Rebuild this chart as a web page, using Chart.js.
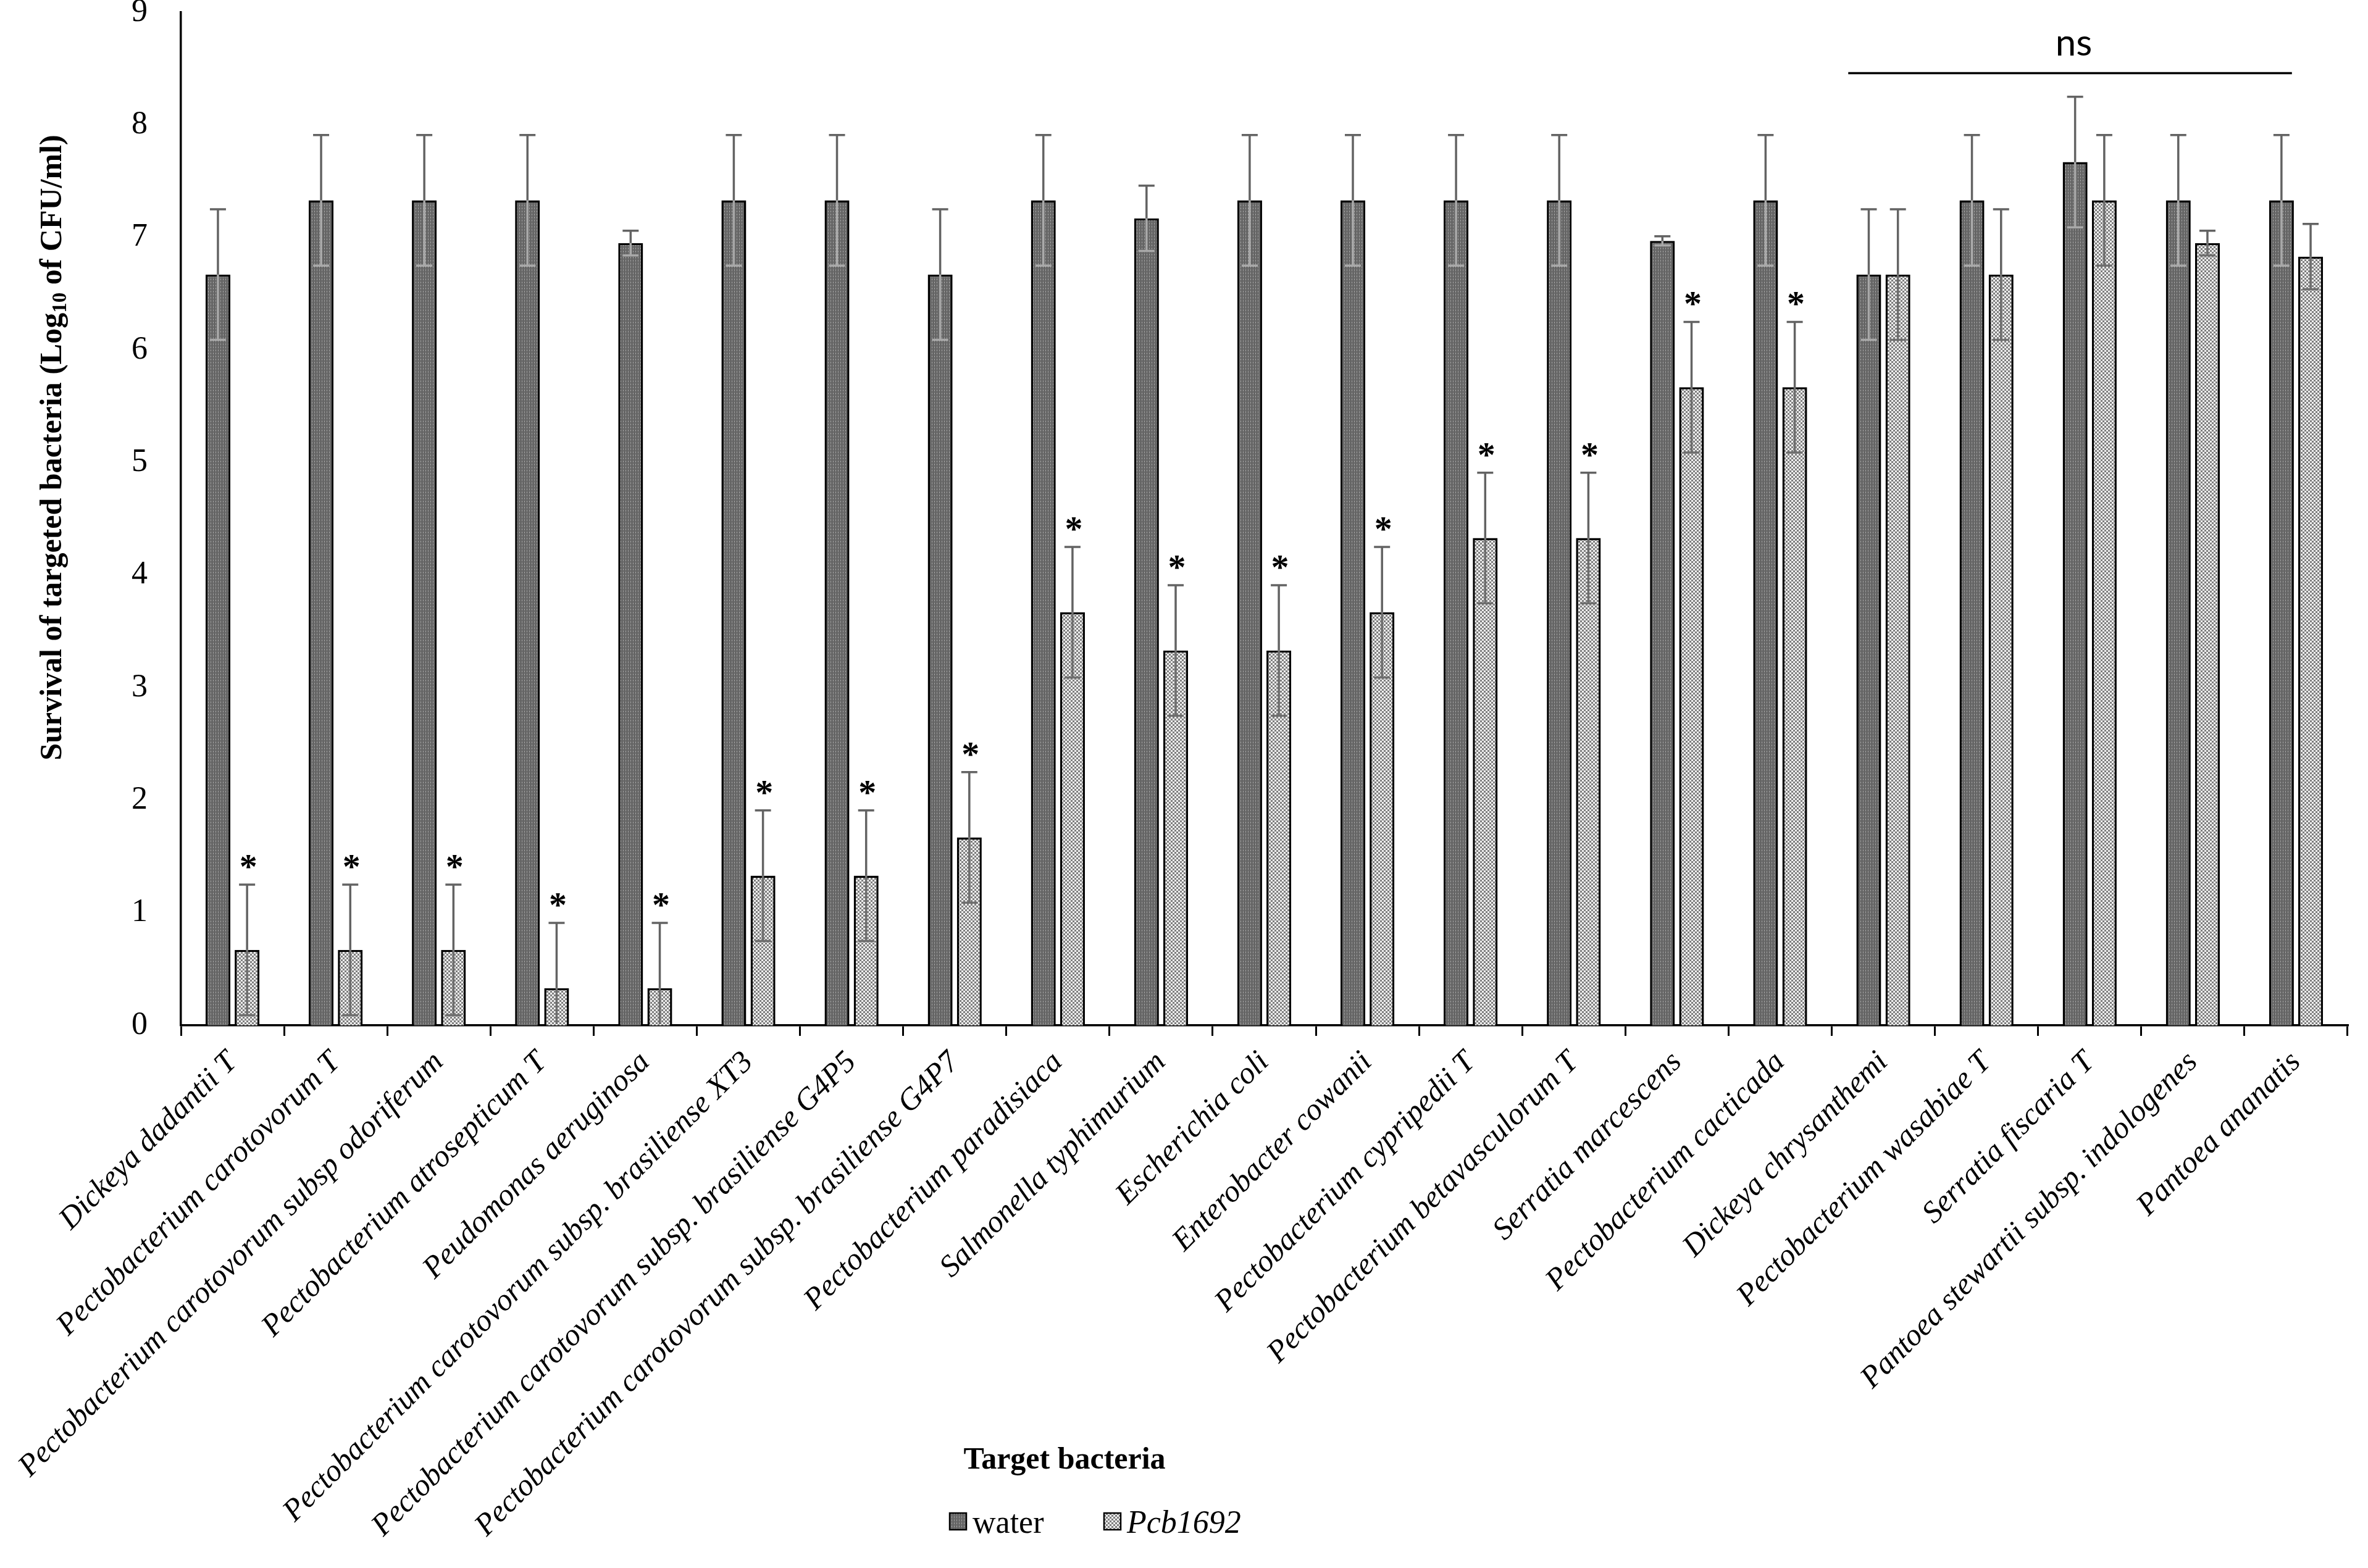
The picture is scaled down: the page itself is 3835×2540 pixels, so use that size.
<!DOCTYPE html>
<html>
<head>
<meta charset="utf-8">
<script src="https://cdn.jsdelivr.net/npm/chart.js@4.4.1/dist/chart.umd.min.js"></script>
<style>
	html, body { margin: 0; padding: 0; background: #fff; }
</style>
</head>
<body>
<canvas id="grafica" width="3835" height="2540"></canvas>
<script>
// datos
var categorias = [
	'Dickeya dadantii T',
	'Pectobacterium carotovorum T',
	'Pectobacterium carotovorum subsp odoriferum',
	'Pectobacterium atrosepticum T',
	'Peudomonas aeruginosa',
	'Pectobacterium carotovorum subsp. brasiliense XT3',
	'Pectobacterium carotovorum subsp. brasiliense G4P5',
	'Pectobacterium carotovorum subsp. brasiliense G4P7',
	'Pectobacterium paradisiaca',
	'Salmonella typhimurium',
	'Escherichia coli',
	'Enterobacter cowanii',
	'Pectobacterium cypripedii T',
	'Pectobacterium betavasculorum T',
	'Serratia marcescens',
	'Pectobacterium cacticada',
	'Dickeya chrysanthemi',
	'Pectobacterium wasabiae T',
	'Serratia fiscaria T',
	'Pantoea stewartii subsp. indologenes',
	'Pantoea ananatis'
];
var agua    = [6.67, 7.33, 7.33, 7.33, 6.95, 7.33, 7.33, 6.67, 7.33, 7.17, 7.33, 7.33, 7.33, 7.33, 6.97, 7.33, 6.67, 7.33, 7.67, 7.33, 7.33];
var aguaErr = [0.58, 0.58, 0.58, 0.58, 0.11, 0.58, 0.58, 0.58, 0.58, 0.29, 0.58, 0.58, 0.58, 0.58, 0.04, 0.58, 0.58, 0.58, 0.58, 0.58, 0.58];
var pcb     = [0.67, 0.67, 0.67, 0.33, 0.33, 1.33, 1.33, 1.67, 3.67, 3.33, 3.33, 3.67, 4.33, 4.33, 5.67, 5.67, 6.67, 6.67, 7.33, 6.95, 6.83];
var pcbErr  = [0.58, 0.58, 0.58, 0.58, 0.58, 0.58, 0.58, 0.58, 0.58, 0.58, 0.58, 0.58, 0.58, 0.58, 0.58, 0.58, 0.58, 0.58, 0.58, 0.11, 0.29];
var signif  = [1, 1, 1, 1, 1, 1, 1, 1, 1, 1, 1, 1, 1, 1, 1, 1, 0, 0, 0, 0, 0];
var ticksY  = [0, 1, 2, 3, 4, 5, 6, 7, 8, 9];
var series  = ['water', 'Pcb1692'];
// barra "ns" sobre los ultimos grupos
var nsDesde = 16, nsHasta = 20, nsNivel = 8.46;

var ctx = document.querySelector('#grafica').getContext('2d');

// texturas de las barras
function patronAgua(){
	var c = document.createElement('canvas');
	c.width = 4; c.height = 5;
	var g = c.getContext('2d');
	g.fillStyle = '#5a5a5a'; g.fillRect(0, 0, 4, 5);
	g.fillStyle = '#858585'; g.fillRect(1, 0, 1, 5);
	g.fillStyle = '#d8d8d8'; g.fillRect(1, 2, 1, 1);
	g.fillStyle = '#707070'; g.fillRect(3, 0, 1, 5);
	return ctx.createPattern(c, 'repeat');
}
function patronPcb(){
	var c = document.createElement('canvas');
	c.width = 6; c.height = 6;
	var g = c.getContext('2d');
	g.fillStyle = '#f0f0f0'; g.fillRect(0, 0, 6, 6);
	g.fillStyle = '#7e7e7e'; g.fillRect(0, 0, 3, 3); g.fillRect(3, 3, 3, 3);
	return ctx.createPattern(c, 'repeat');
}
var texAgua = patronAgua();
var texPcb = patronPcb();

var extras = {
	id: 'extras',
	afterDatasetsDraw: function(chart){
		var c = chart.ctx;
		var ys = chart.scales.y, xs = chart.scales.x;
		var area = chart.chartArea;
		var errores = [aguaErr, pcbErr];
		var valores = [agua, pcb];
		c.save();
		for (var d = 0; d < 2; d++) {
			var meta = chart.getDatasetMeta(d);
			meta.data.forEach(function(bar, i){
				var v = valores[d][i], e = errores[d][i];
				var yt = ys.getPixelForValue(v + e);
				var yv = ys.getPixelForValue(v);
				var yb = ys.getPixelForValue(v - e);
				c.lineWidth = 3.5;
				// parte de abajo (dentro de la barra), cortada en el eje
				c.save();
				c.beginPath();
				c.rect(area.left, area.top - 200, area.right - area.left, area.bottom - area.top + 198);
				c.clip();
				c.strokeStyle = d === 0 ? '#a9a9a9' : '#6e6e6e';
				c.beginPath();
				c.moveTo(bar.x, yv); c.lineTo(bar.x, yb);
				c.moveTo(bar.x - 13, yb); c.lineTo(bar.x + 13, yb);
				c.stroke();
				c.restore();
				// parte de arriba
				c.strokeStyle = '#636363';
				c.beginPath();
				c.moveTo(bar.x, yv); c.lineTo(bar.x, yt);
				c.moveTo(bar.x - 13, yt); c.lineTo(bar.x + 13, yt);
				c.stroke();
				if (d === 1 && signif[i]) {
					c.fillStyle = '#000';
					c.font = 'bold 58px "Liberation Serif"';
					c.textAlign = 'center';
					c.textBaseline = 'alphabetic';
					c.fillText('*', bar.x + 2, yt - 10);
				}
			});
		}
		// linea ns
		var cw = xs.getPixelForValue(1) - xs.getPixelForValue(0);
		var x1 = xs.getPixelForValue(nsDesde) - 0.34 * cw;
		var x2 = xs.getPixelForValue(nsHasta) - 0.04 * cw;
		var yn = ys.getPixelForValue(nsNivel);
		c.strokeStyle = '#000';
		c.lineWidth = 3.5;
		c.beginPath(); c.moveTo(x1, yn); c.lineTo(x2, yn); c.stroke();
		c.fillStyle = '#000';
		c.font = '60px Lato';
		c.textAlign = 'center';
		c.textBaseline = 'alphabetic';
		c.fillText('ns', (x1 + x2) / 2 + 6, yn - 28);
		c.restore();
	},
	afterDraw: function(chart){
		var c = chart.ctx;
		c.save();
		// titulo eje y con subindice
		c.translate(86, 725);
		c.rotate(-Math.PI / 2);
		c.fillStyle = '#000';
		c.textBaseline = 'middle';
		c.textAlign = 'left';
		var p1 = 'Survival of targeted bacteria (Log', p2 = '10', p3 = ' of CFU/ml)';
		var fg = 'bold 50px "Liberation Serif"', fs = 'bold 33px "Liberation Serif"';
		c.font = fg;
		var w1 = c.measureText(p1).width, w3 = c.measureText(p3).width;
		c.font = fs;
		var w2 = c.measureText(p2).width;
		var x0 = -(w1 + w2 + w3) / 2;
		c.font = fg;
		c.fillText(p1, x0, 0);
		c.font = fs;
		c.fillText(p2, x0 + w1, 12);
		c.font = fg;
		c.fillText(p3, x0 + w1 + w2, 0);
		c.restore();

		c.save();
		// titulo eje x
		c.fillStyle = '#000';
		c.font = 'bold 50px "Liberation Serif"';
		c.textAlign = 'center';
		c.textBaseline = 'alphabetic';
		c.fillText('Target bacteria', 1724, 2379);
		// leyenda
		var cajas = [[1538, texAgua, '', series[0]], [1788, texPcb, 'italic ', series[1]]];
		cajas.forEach(function(k){
			c.fillStyle = k[1];
			c.fillRect(k[0], 2451, 27, 27);
			c.strokeStyle = '#000';
			c.lineWidth = 2.5;
			c.strokeRect(k[0], 2451, 27, 27);
			c.fillStyle = '#000';
			c.font = k[2] + '52px "Liberation Serif"';
			c.textAlign = 'left';
			c.fillText(k[3], k[0] + 37, 2483);
		});
		c.restore();
	}
};

var myChart = new Chart(ctx, {
	type: 'bar',
	data: {
		labels: categorias,
		datasets: [{
			label: series[0],
			data: agua,
			backgroundColor: texAgua,
			borderColor: '#000',
			borderWidth: 3.5
		}, {
			label: series[1],
			data: pcb,
			backgroundColor: texPcb,
			borderColor: '#000',
			borderWidth: 3.5
		}]
	},
	options: {
		responsive: false,
		animation: false,
		devicePixelRatio: 1,
		layout: { padding: { top: 20, right: 33, left: 0, bottom: 0 } },
		datasets: { bar: { categoryPercentage: 0.565, barPercentage: 0.85 } },
		plugins: {
			legend: { display: false },
			tooltip: { enabled: false }
		},
		scales: {
			x: {
				grid: { drawOnChartArea: false, drawTicks: true, tickLength: 17, color: '#000', lineWidth: 3 },
				border: { color: '#000', width: 3.5 },
				ticks: {
					autoSkip: false,
					maxRotation: 45,
					minRotation: 45,
					padding: 14,
					color: '#000',
					font: { family: 'Liberation Serif', style: 'italic', size: 50 }
				},
				afterFit: function(s){ s.height = 2540 - 1661; }
			},
			y: {
				min: 0,
				max: 9,
				grid: { display: false },
				border: { color: '#000', width: 3.5 },
				afterBuildTicks: function(s){ s.ticks = ticksY.map(function(v){ return { value: v }; }); },
				ticks: {
					padding: 46,
					color: '#000',
					font: { family: 'Liberation Serif', size: 52 }
				},
				afterFit: function(s){ s.width = 293; s.paddingTop = 0; s.paddingBottom = 0; }
			}
		}
	},
	plugins: [extras]
});
</script>
</body>
</html>
